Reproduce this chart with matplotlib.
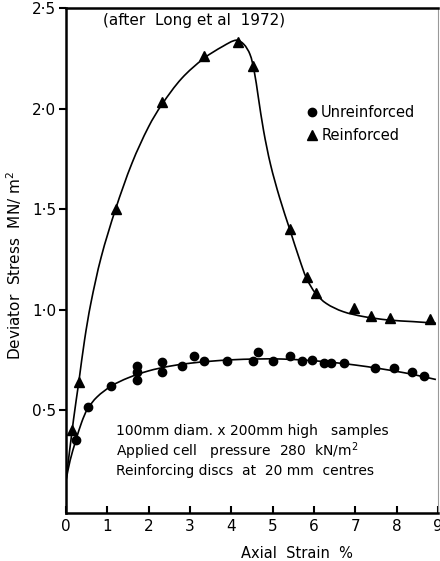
import matplotlib
matplotlib.use("Agg")
import matplotlib.pyplot as plt
from matplotlib.path import Path
from matplotlib.patches import PathPatch

# measured points, axial strain (%) vs deviator stress (MN/m^2)
unr_x = [0.24, 0.53, 1.10, 1.71, 1.71, 1.71, 2.33, 2.33, 2.81, 3.10, 3.34, 3.89,
         4.52, 4.64, 5.00, 5.43, 5.70, 5.96, 6.23, 6.42, 6.73, 7.47, 7.93, 8.37, 8.67]
unr_y = [0.35, 0.515, 0.62, 0.72, 0.69, 0.65, 0.74, 0.69, 0.72, 0.77, 0.745, 0.745,
         0.745, 0.79, 0.745, 0.77, 0.745, 0.75, 0.735, 0.735, 0.735, 0.71, 0.71, 0.69, 0.67]

rei_x = [0.14, 0.31, 1.20, 2.32, 3.34, 4.17, 4.52, 5.43, 5.82, 6.04, 6.97, 7.38, 7.84, 8.80]
rei_y = [0.40, 0.64, 1.50, 2.03, 2.26, 2.33, 2.21, 1.40, 1.16, 1.08, 1.01, 0.97, 0.96, 0.955]

# hand-fitted curves through the data
unr_cx = [0.0, 0.1, 0.24, 0.38, 0.52, 0.75, 1.1, 1.5, 2.0, 2.5, 3.0, 3.5, 4.0, 4.6,
          5.2, 5.8, 6.4, 7.0, 7.6, 8.2, 8.6, 8.95]
unr_cy = [0.15, 0.25, 0.35, 0.44, 0.505, 0.565, 0.62, 0.66, 0.695, 0.718, 0.733, 0.743,
          0.75, 0.754, 0.754, 0.748, 0.738, 0.724, 0.706, 0.685, 0.668, 0.652]

rei_cx = [0.0, 0.18, 0.31, 0.45, 0.6, 0.85, 1.2, 1.6, 2.0, 2.32, 2.8, 3.34, 3.8, 4.12,
          4.3, 4.45, 4.55, 4.65, 4.78, 4.95, 5.17, 5.42, 5.65, 5.82, 6.04, 6.3, 6.7,
          7.2, 7.8, 8.4, 8.95]
rei_cy = [0.15, 0.45, 0.64, 0.85, 1.03, 1.26, 1.50, 1.73, 1.91, 2.02, 2.15, 2.25, 2.31,
          2.34, 2.32, 2.27, 2.19, 2.06, 1.89, 1.72, 1.555, 1.395, 1.25, 1.155, 1.08, 1.03,
          0.99, 0.965, 0.948, 0.94, 0.932]

yticks = [0.5, 1.0, 1.5, 2.0, 2.5]
ytick_labels = ["0·5", "1·0", "1·5", "2·0", "2·5"]
xticks = [0, 1, 2, 3, 4, 5, 6, 7, 8, 9]


def smooth_path(xs, ys, sx=41.6, sy=201.0):
    # hermite spline through the knots, chord-length parametrised in screen units
    n = len(xs)
    t = [0.0]
    for i in range(1, n):
        dx = (xs[i] - xs[i - 1]) * sx
        dy = (ys[i] - ys[i - 1]) * sy
        t.append(t[-1] + (dx * dx + dy * dy) ** 0.5)
    tan = []
    for i in range(n):
        a = max(i - 1, 0)
        b = min(i + 1, n - 1)
        dt = t[b] - t[a]
        tan.append(((xs[b] - xs[a]) / dt, (ys[b] - ys[a]) / dt))
    verts = [(xs[0], ys[0])]
    codes = [Path.MOVETO]
    for i in range(n - 1):
        h = (t[i + 1] - t[i]) / 3
        c1 = (xs[i] + tan[i][0] * h, ys[i] + tan[i][1] * h)
        c2 = (xs[i + 1] - tan[i + 1][0] * h, ys[i + 1] - tan[i + 1][1] * h)
        verts += [c1, c2, (xs[i + 1], ys[i + 1])]
        codes += [Path.CURVE4] * 3
    return Path(verts, codes)


fig = plt.figure(figsize=(4.4, 5.61), dpi=100)
ax = fig.add_axes([66 / 440, 1 - 513 / 561, 372 / 440, 505 / 561])

for cx, cy in [(unr_cx, unr_cy), (rei_cx, rei_cy)]:
    ax.add_patch(PathPatch(smooth_path(cx, cy), fill=False, edgecolor="black", lw=1.2))
ax.plot(unr_x, unr_y, "o", color="black", ms=6, label="Unreinforced")
ax.plot(rei_x, rei_y, "^", color="black", ms=7.5, label="Reinforced")

ax.set_xlim(0, 8.94)
ax.set_ylim(-0.012, 2.5)

ax.set_yticks(yticks)
ax.set_yticklabels(ytick_labels)
ax.set_xticks(xticks)
ax.tick_params(axis="y", direction="out", length=5, width=1.5, labelsize=11, pad=2)
ax.tick_params(axis="x", direction="in", length=5, width=1.5, labelsize=11, pad=4)

for side in ["left", "bottom", "top"]:
    ax.spines[side].set_linewidth(1.8)
ax.spines["right"].set_linewidth(0.8)
ax.spines["right"].set_color("0.6")

ax.set_ylabel("Deviator  Stress  MN/ m$^2$", fontsize=11)
ax.yaxis.set_label_coords(-0.113, 0.49)
ax.set_xlabel("Axial  Strain  %", fontsize=10.5)
ax.xaxis.set_label_coords(0.62, -0.065)

ax.text(0.10, 0.976, "(after  Long et al  1972)", transform=ax.transAxes,
        fontsize=11, va="center")

ax.text(0.135, 0.123, "100mm diam. x 200mm high   samples\n"
        "Applied cell   pressure  280  kN/m$^2$\n"
        "Reinforcing discs  at  20 mm  centres",
        transform=ax.transAxes, fontsize=10, va="center", linespacing=1.15)

ax.legend(loc="upper left", bbox_to_anchor=(0.635, 0.82), frameon=False,
          handlelength=0.6, handletextpad=0.3, fontsize=10.5, labelspacing=0.6,
          borderaxespad=0)

fig.savefig("out.png", dpi=100)
